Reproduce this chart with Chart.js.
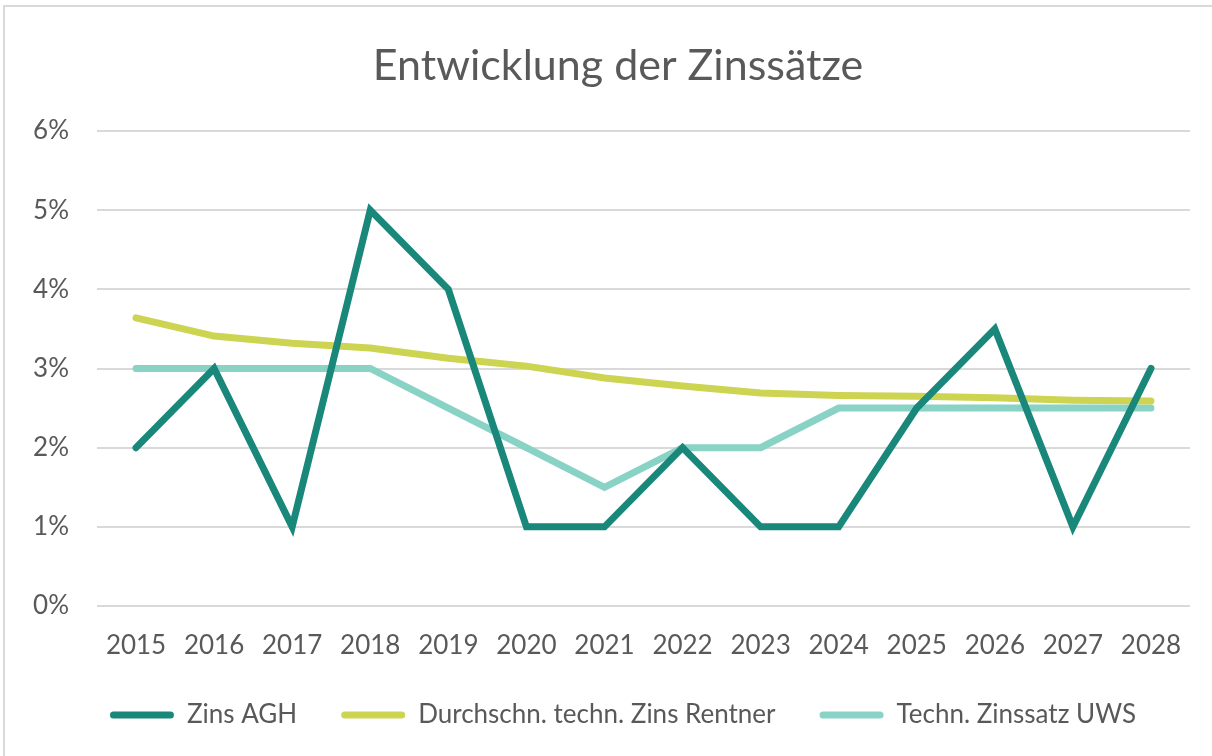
<!DOCTYPE html>
<html>
<head>
<meta charset="utf-8">
<script src="https://cdn.jsdelivr.net/npm/chart.js@4/dist/chart.umd.min.js"></script>
<style>
  html, body { margin: 0; padding: 0; background: #fff; }
  #wrap {
    position: absolute; left: 3px; top: 5px; width: 1209px; height: 751px;
    border-left: 2px solid #d9d9d9; border-top: 2px solid #d9d9d9;
    box-sizing: border-box; background: #fff;
  }
  canvas { display: block; }
</style>
</head>
<body>
<div id="wrap"><canvas id="c"></canvas></div>
<script>
const years = ["2015", "2016", "2017", "2018", "2019", "2020", "2021", "2022", "2023", "2024", "2025", "2026", "2027", "2028"]
const zinsAGH = [2, 3, 1, 5, 4, 1, 1, 2, 1, 1, 2.5, 3.5, 1, 3]
const zinsRentner = [3.64, 3.41, 3.32, 3.26, 3.13, 3.03, 2.88, 2.78, 2.69, 2.66, 2.65, 2.63, 2.6, 2.59]
const zinsUWS = [3, 3, 3, 3, 2.5, 2, 1.5, 2, 2, 2.5, 2.5, 2.5, 2.5, 2.5]
const yTicks = [0, 1, 2, 3, 4, 5, 6]

const FONT = "Lato, 'Open Sans', sans-serif"
const TEXT = "#595959"

const series = [
  { label: "Zins AGH", data: zinsAGH, color: "#19877a" },
  { label: "Durchschn. techn. Zins Rentner", data: zinsRentner, color: "#cdd452" },
  { label: "Techn. Zinssatz UWS", data: zinsUWS, color: "#88d2c6" },
]

// title and legend sit a little right of the canvas centre in the original
const shiftBlocks = {
  id: "shiftBlocks",
  afterLayout(chart) {
    const t = chart.titleBlock
    if (t) { t.left += 6.5; t.right += 6.5 }
    const l = chart.legend
    if (l) { l.left += 11.5; l.right += 11.5 }
  },
}

const canvas = document.getElementById("c")
canvas.width = 1207
canvas.height = 749

new Chart(canvas, {
  type: "line",
  data: {
    labels: years,
    datasets: series.map((s) => ({
      label: s.label,
      data: s.data,
      borderColor: s.color,
      backgroundColor: s.color,
      borderWidth: 7,
      pointRadius: 0,
      tension: 0,
      borderCapStyle: "round",
      borderJoinStyle: "miter",
    })),
  },
  plugins: [shiftBlocks],
  options: {
    responsive: false,
    animation: false,
    layout: { padding: { left: 28, right: 22, top: 0, bottom: 18 } },
    plugins: {
      title: {
        display: true,
        text: "Entwicklung der Zinssätze",
        color: TEXT,
        font: { family: FONT, size: 43, weight: "normal" },
        padding: { top: 33, bottom: 39.4 },
      },
      legend: {
        position: "bottom",
        labels: {
          color: TEXT,
          font: { family: FONT, size: 26 },
          boxWidth: 64,
          boxHeight: 7,
          padding: 44,
          useBorderRadius: true,
          borderRadius: 3.5,
          generateLabels: (chart) =>
            chart.data.datasets.map((ds, i) => ({
              text: ds.label,
              fillStyle: ds.borderColor,
              strokeStyle: ds.borderColor,
              lineWidth: 0,
              fontColor: TEXT,
              datasetIndex: i,
              borderRadius: 3.5,
            })),
        },
      },
      tooltip: { enabled: false },
    },
    scales: {
      x: {
        offset: true,
        grid: { display: false },
        border: { display: false },
        afterFit: (axis) => {
          axis.height = 52
        },
        ticks: {
          color: TEXT,
          font: { family: FONT, size: 26 },
          maxRotation: 0,
          padding: 16,
        },
      },
      y: {
        min: 0,
        max: 6,
        afterBuildTicks: (axis) => {
          axis.ticks = yTicks.map((v) => ({ value: v }))
        },
        afterFit: (axis) => {
          axis.width = 64
        },
        grid: { color: "#d9d9d9", lineWidth: 2, drawTicks: false },
        border: { display: false },
        ticks: {
          color: TEXT,
          font: { family: FONT, size: 26 },
          padding: 28,
          callback: (v) => `${v}%`,
        },
      },
    },
  },
})
</script>
</body>
</html>
